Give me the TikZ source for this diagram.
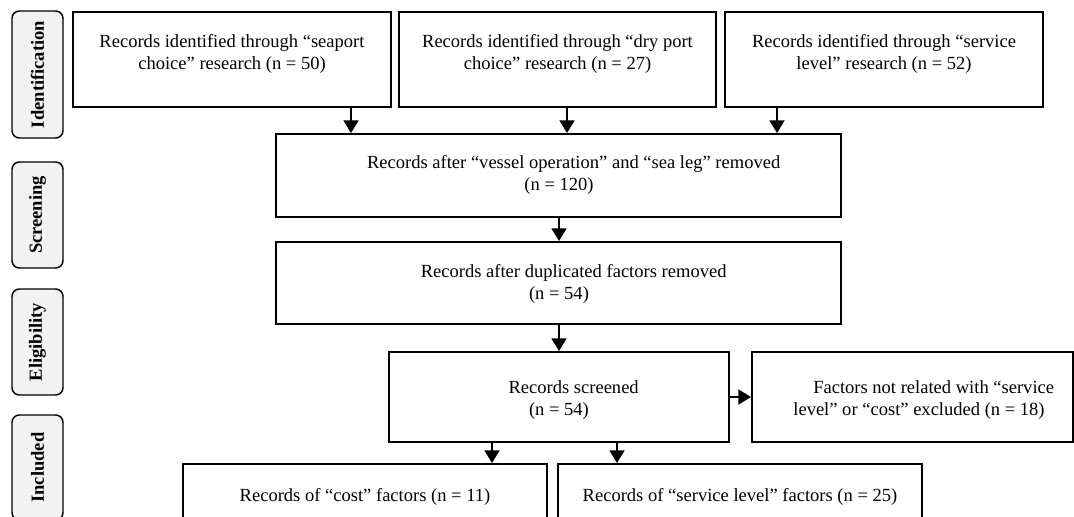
\documentclass[tikz,border=0pt]{standalone}
\usepackage{fontspec}
\setmainfont{Liberation Serif}
\usetikzlibrary{arrows.meta}
\newcommand\myfs{\fontsize{13.9pt}{16pt}\selectfont}
\newcommand\indentln{\hspace*{22pt}}
\begin{document}
\begin{tikzpicture}[x=0.75pt,y=-0.75pt,
  box/.style={draw=black, line width=1.4pt, inner sep=0pt},
  txt/.style={align=center, font=\myfs, inner sep=0pt},
  side/.style={draw=black, line width=1.1pt, rounded corners=5.5pt, fill=black!5,
    rotate=90, font=\bfseries\myfs, inner sep=0pt},
  arr/.style={line width=2pt, -{Triangle[length=9.5pt,width=11pt]}}]
\useasboundingbox (0,0) rectangle (1074,517);
% side labels
\node[side, minimum width=127*0.75pt, minimum height=51*0.75pt] (s1) at (37.5,74.5) {Identification};
\node[side, minimum width=106*0.75pt, minimum height=51*0.75pt] (s2) at (37.5,215) {Screening};
\node[side, minimum width=106*0.75pt, minimum height=51*0.75pt] (s3) at (37.5,342) {Eligibility};
\node[side, minimum width=105*0.75pt, minimum height=51*0.75pt] (s4) at (37.5,467.5) {Included};
% boxes
\node[box, minimum width=318*0.75pt, minimum height=95*0.75pt] (b1) at (232,59.5) {};
\node[box, minimum width=317*0.75pt, minimum height=95*0.75pt] (b2) at (557.5,59.5) {};
\node[box, minimum width=318*0.75pt, minimum height=95*0.75pt] (b3) at (884,59.5) {};
\node[txt] (t1) at (232,54) {Records identified through “seaport\\choice” research (n = 50)};
\node[txt] (t2) at (557.5,54) {Records identified through “dry port\\choice” research (n = 27)};
\node[txt] (t3) at (884,54) {Records identified through “service\\level” research (n = 52)};
\node[box, minimum width=565*0.75pt, minimum height=83*0.75pt] (b4) at (558.5,175.5) {};
\node[txt] (t4) at (559,175) {\indentln Records after “vessel operation” and “sea leg” removed\\(n = 120)};
\node[box, minimum width=565*0.75pt, minimum height=82*0.75pt] (b5) at (558.5,283) {};
\node[txt] (t5) at (559,284) {\indentln Records after duplicated factors removed\\(n = 54)};
\node[box, minimum width=340*0.75pt, minimum height=90*0.75pt] (b6) at (559,397) {};
\node[txt] (t6) at (559,400) {\indentln Records screened\\(n = 54)};
\node[box, minimum width=321*0.75pt, minimum height=90*0.75pt] (b7) at (912.5,397) {};
\node[txt] (t7) at (919,400) {\indentln Factors not related with “service\\level” or “cost” excluded (n = 18)};
\node[box, minimum width=364*0.75pt, minimum height=66*0.75pt] (b8) at (365,497) {};
\node[txt] (t8) at (365,497) {Records of “cost” factors (n = 11)};
\node[box, minimum width=364*0.75pt, minimum height=66*0.75pt] (b9) at (740,497) {};
\node[txt] (t9) at (740,497) {Records of “service level” factors (n = 25)};
% arrow columns
\coordinate (xa1) at (351,0);
\coordinate (xa2) at (567,0);
\coordinate (xa3) at (777,0);
\coordinate (xa4) at (559,0);
\coordinate (xa8) at (492,0);
\coordinate (xa9) at (617,0);
\draw[arr] (b1.south -| xa1) -- (b4.north -| xa1);
\draw[arr] (b2.south -| xa2) -- (b4.north -| xa2);
\draw[arr] (b3.south -| xa3) -- (b4.north -| xa3);
\draw[arr] (b4.south -| xa4) -- (b5.north -| xa4);
\draw[arr] (b5.south -| xa4) -- (b6.north -| xa4);
\draw[arr] (b6.east) -- (b7.west);
\draw[arr] (b6.south -| xa8) -- (b8.north -| xa8);
\draw[arr] (b6.south -| xa9) -- (b9.north -| xa9);
\end{tikzpicture}
\end{document}
